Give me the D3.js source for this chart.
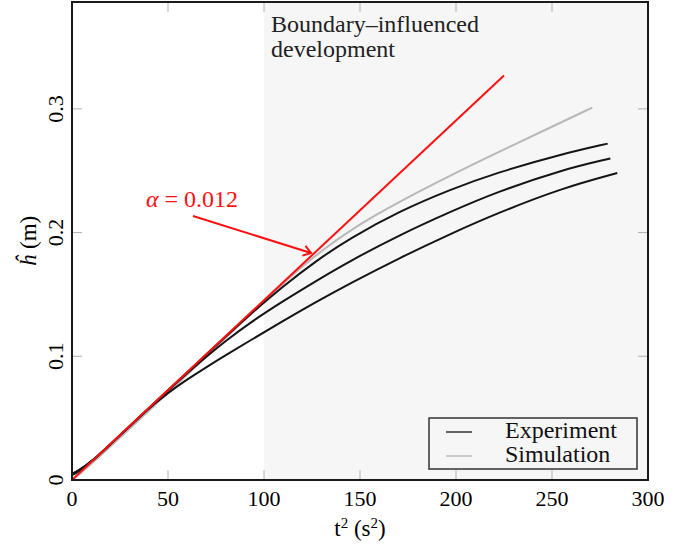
<!DOCTYPE html>
<html>
<head>
<meta charset="utf-8">
<script src="https://cdn.jsdelivr.net/npm/d3@7"></script>
<style>
  body { margin: 0; background: #fff; }
  svg text { font-family: 'Liberation Serif', 'Times New Roman', serif; }
</style>
</head>
<body>
<div id="chart"></div>
<script>
// Tick values for both axes.
var tickT = [0, 50, 100, 150, 200, 250, 300];
var tickH = [0, 0.1, 0.2, 0.3];

// Experiment runs, [t^2, h].
var expTop = [[0, 0.005], [3, 0.007], [10, 0.0145], [20, 0.029], [30, 0.0435], [40, 0.058],
  [50, 0.0725], [60, 0.087], [70, 0.1015], [80, 0.1158], [92.7, 0.1338], [110, 0.1568],
  [127.6, 0.1777], [144.8, 0.1954], [170.8, 0.2175], [196.9, 0.2347], [221, 0.2484],
  [255.7, 0.2637], [279, 0.2719]];
var expMid = [[0, 0.005], [3, 0.007], [10, 0.0145], [20, 0.029], [30, 0.0435], [40, 0.058],
  [50, 0.0725], [60, 0.0864], [70, 0.0997], [80, 0.1124], [92.7, 0.1272], [110, 0.1447],
  [127.6, 0.1614], [144.8, 0.1771], [170.8, 0.1982], [196.9, 0.2167], [221, 0.2327],
  [255.7, 0.251], [280.4, 0.2599]];
var expLow = [[0, 0.004], [3, 0.006], [10, 0.0143], [20, 0.0288], [30, 0.0433], [40, 0.058],
  [50, 0.0705], [60, 0.0813], [72, 0.0932], [80, 0.1008], [92.7, 0.1127], [110, 0.1286],
  [127.6, 0.1443], [144.8, 0.1589], [170.8, 0.1797], [196.9, 0.1988], [221, 0.2154],
  [255.7, 0.2362], [284, 0.2481]];

// Simulation run.
var simRun = [[0, 0], [10, 0.0128], [20, 0.027], [30, 0.0415], [40, 0.056], [50, 0.0705],
  [60, 0.085], [70, 0.1], [80, 0.115], [92.7, 0.1335], [108, 0.156], [120, 0.1728],
  [132, 0.1878], [144.8, 0.2016], [157, 0.2132], [170.8, 0.2252], [196.9, 0.2461],
  [221, 0.2642], [247, 0.2834], [271, 0.301]];

// Self-similar growth line, alpha = 0.012.
var alphaLine = [[0, 0], [225, 0.327]];

// Start of the boundary-influenced region.
var boundaryT = 100;

var width = 683, height = 547;

var svg = d3.select('#chart')
    .append('svg')
    .attr('width', width)
    .attr('height', height);

var x = d3.scaleLinear().domain([0, 300]).range([72, 648]);
var y = d3.scaleLinear().domain([0, 0.3864]).range([480, 2]);

// Shaded region.
svg.append('rect')
  .attr('x', x(boundaryT))
  .attr('y', y.range()[1])
  .attr('width', x(300) - x(boundaryT))
  .attr('height', y.range()[0] - y.range()[1])
  .attr('fill', '#f6f6f6');

// Ticks point inward on all four sides.
var tickLen = 10;
var ticks = svg.append('g').attr('stroke', '#b0b0b0').attr('stroke-width', 1);
tickT.forEach(function(t) {
  ticks.append('line').attr('x1', x(t)).attr('x2', x(t)).attr('y1', y(0)).attr('y2', y(0) - tickLen);
  ticks.append('line').attr('x1', x(t)).attr('x2', x(t)).attr('y1', y.range()[1]).attr('y2', y.range()[1] + tickLen);
});
tickH.forEach(function(h) {
  ticks.append('line').attr('x1', x(0)).attr('x2', x(0) + tickLen).attr('y1', y(h)).attr('y2', y(h));
  ticks.append('line').attr('x1', x(300)).attr('x2', x(300) - tickLen).attr('y1', y(h)).attr('y2', y(h));
});

// Tick labels.
svg.selectAll('text.xtick')
  .data(tickT)
  .enter()
    .append('text')
      .attr('class', 'xtick')
      .attr('x', function(d) { return x(d); })
      .attr('y', 506)
      .attr('text-anchor', 'middle')
      .attr('font-size', 22)
      .text(function(d) { return d; });

svg.selectAll('text.ytick')
  .data(tickH)
  .enter()
    .append('text')
      .attr('class', 'ytick')
      .attr('transform', function(d) { return 'translate(63,' + y(d) + ') rotate(-90)'; })
      .attr('text-anchor', 'middle')
      .attr('font-size', 22)
      .text(function(d) { return d === 0 ? '0' : d3.format('.1f')(d); });

// Axis titles.
var xTitle = svg.append('text')
  .attr('x', 360)
  .attr('y', 536)
  .attr('text-anchor', 'middle')
  .attr('font-size', 23);
xTitle.append('tspan').text('t');
xTitle.append('tspan').attr('dy', -8).attr('font-size', 15).text('2');
xTitle.append('tspan').attr('dy', 8).text('\u00a0(s');
xTitle.append('tspan').attr('dy', -8).attr('font-size', 15).text('2');
xTitle.append('tspan').attr('dy', 8).text(')');

var yTitle = svg.append('text')
  .attr('transform', 'translate(36,241) rotate(-90)')
  .attr('text-anchor', 'middle')
  .attr('font-size', 23);
yTitle.append('tspan').attr('font-style', 'italic').text('\u0125');
yTitle.append('tspan').text('\u00a0(m)');

// Region label.
svg.append('text')
  .attr('x', x(boundaryT) + 7)
  .attr('y', 32)
  .attr('font-size', 24)
  .attr('fill', '#222')
  .text('Boundary\u2013influenced');
svg.append('text')
  .attr('x', x(boundaryT) + 7)
  .attr('y', 57)
  .attr('font-size', 24)
  .attr('fill', '#222')
  .text('development');

// Curves.
var line = d3.line()
  .x(function(d) { return x(d[0]); })
  .y(function(d) { return y(d[1]); })
  .curve(d3.curveBasis);

svg.append('path')
  .attr('d', line(simRun))
  .attr('fill', 'none')
  .attr('stroke', '#b8b8b8')
  .attr('stroke-width', 2);

[expTop, expMid, expLow].forEach(function(run) {
  svg.append('path')
    .attr('d', line(run))
    .attr('fill', 'none')
    .attr('stroke', '#151515')
    .attr('stroke-width', 2);
});

svg.append('path')
  .attr('d', line.curve(d3.curveLinear)(alphaLine))
  .attr('fill', 'none')
  .attr('stroke', '#ff1010')
  .attr('stroke-width', 2);

// Annotation with arrow.
var note = svg.append('text')
  .attr('x', x(38.5))
  .attr('y', 207)
  .attr('font-size', 24)
  .attr('fill', '#ff1010');
note.append('tspan').attr('font-style', 'italic').text('\u03b1');
note.append('tspan').text(' = 0.012');

var start = {x: x(63), y: y(0.2134)};
var end = {x: x(124.5), y: y(0.1835)};
var ang = Math.atan2(end.y - start.y, end.x - start.x);
var barb = 9;
var drawArrow = function(s, e) {
  return 'M' + s.x + ',' + s.y
    + 'L' + e.x + ',' + e.y
    + 'M' + (e.x - barb * Math.cos(ang - 0.6)) + ',' + (e.y - barb * Math.sin(ang - 0.6))
    + 'L' + e.x + ',' + e.y
    + 'L' + (e.x - barb * Math.cos(ang + 0.6)) + ',' + (e.y - barb * Math.sin(ang + 0.6));
};
svg.append('path')
  .attr('d', drawArrow(start, end))
  .attr('fill', 'none')
  .attr('stroke', '#ff1010')
  .attr('stroke-width', 2);

// Legend.
var legend = svg.append('g').attr('transform', 'translate(429,418)');
legend.append('rect')
  .attr('width', 208)
  .attr('height', 51)
  .attr('fill', '#f6f6f6')
  .attr('stroke', '#333')
  .attr('stroke-width', 1.5);
var legendItems = [
  {label: 'Experiment', color: '#333'},
  {label: 'Simulation', color: '#bbb'}
];
var items = legend.selectAll('g.item')
  .data(legendItems)
  .enter()
    .append('g')
      .attr('class', 'item')
      .attr('transform', function(d, i) { return 'translate(0,' + (14 + i * 24) + ')'; });
items.append('line')
  .attr('x1', 17).attr('x2', 43)
  .attr('stroke', function(d) { return d.color; })
  .attr('stroke-width', 1.5);
items.append('text')
  .attr('x', 76)
  .attr('y', 6)
  .attr('font-size', 24)
  .attr('fill', '#111')
  .text(function(d) { return d.label; });

// Frame.
svg.append('rect')
  .attr('x', x(0))
  .attr('y', y.range()[1])
  .attr('width', x(300) - x(0))
  .attr('height', y.range()[0] - y.range()[1])
  .attr('fill', 'none')
  .attr('stroke', '#1a1a1a')
  .attr('stroke-width', 2);
</script>
</body>
</html>
